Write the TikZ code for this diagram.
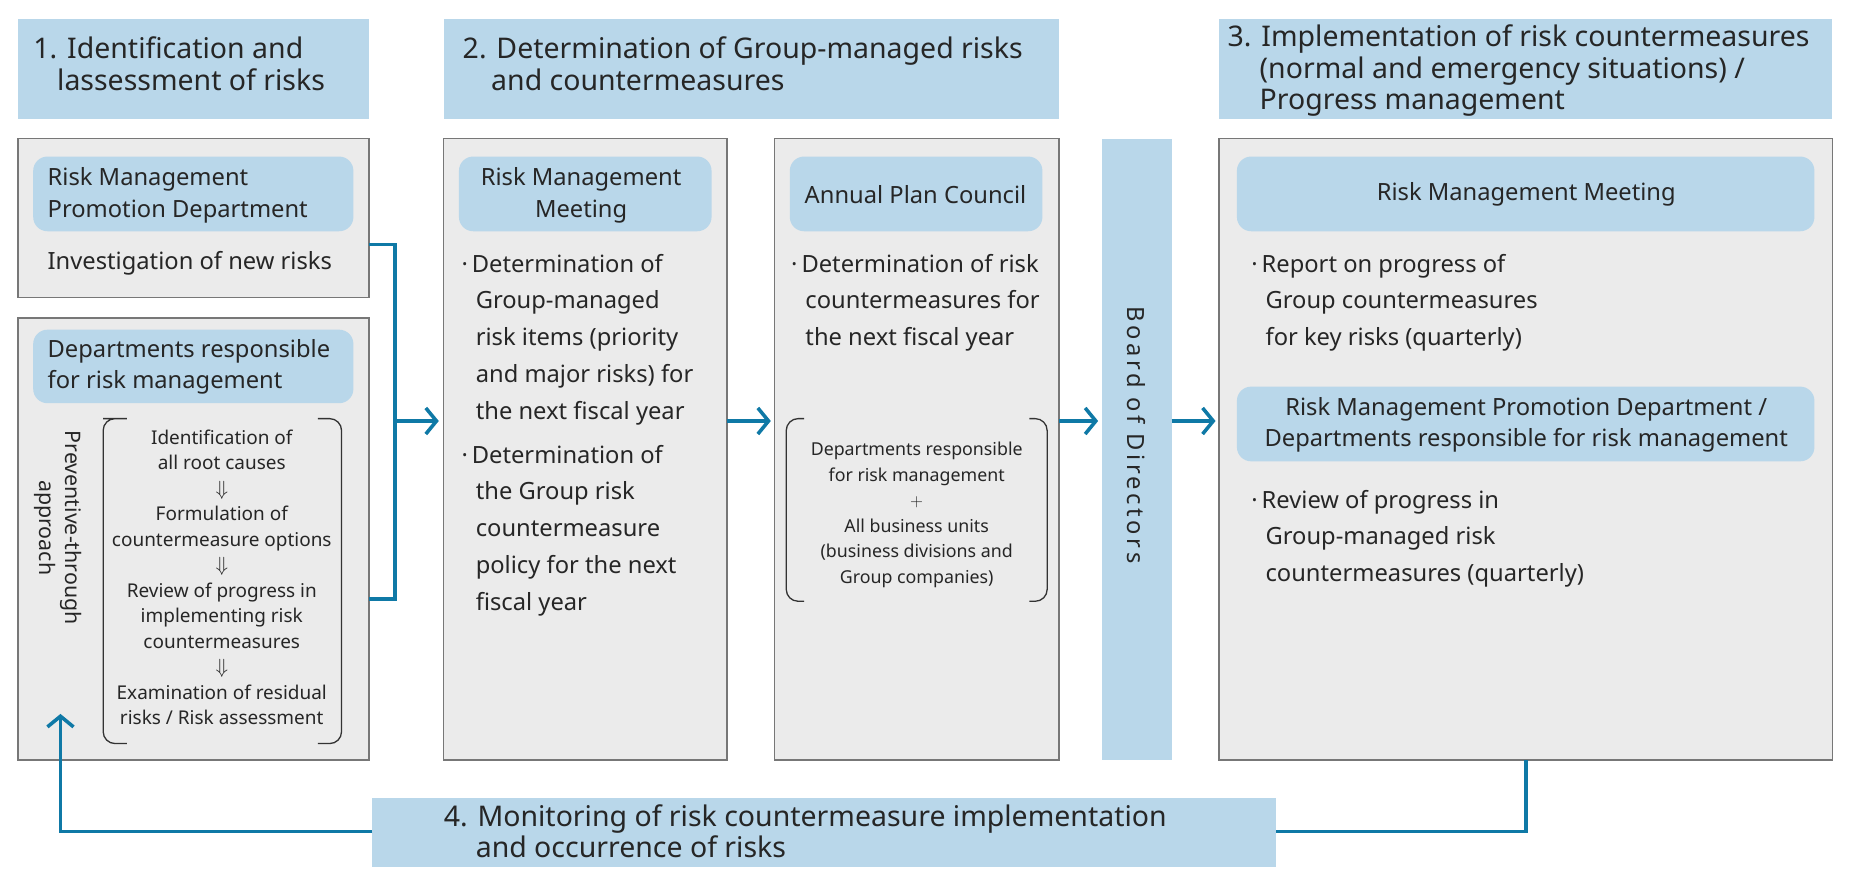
\documentclass[tikz,border=0pt]{standalone}
\usepackage{fontspec}
\setmainfont{Noto Sans}
\usetikzlibrary{arrows.meta}
\definecolor{hdr}{HTML}{B9D7EA}
\definecolor{boxg}{HTML}{EBEBEB}
\definecolor{edge}{HTML}{777777}
\definecolor{ln}{HTML}{0F79A6}
\tikzset{
  col/.style={draw=edge,fill=boxg,line width=1.2pt},
  hd/.style={fill=hdr,draw=none},
  pill/.style={fill=hdr,draw=none,rounded corners=12pt},
  t/.style={inner sep=0pt,align=left,text=black!85},
  tc/.style={inner sep=0pt,align=center,text=black!85},
  conn/.style={draw=ln,line width=3pt},
  arr/.style={conn,-{Straight Barb[length=9pt,width=22pt,line width=3pt]}},
  brk/.style={draw=black!80,line width=1.1pt,rounded corners=10pt},
}
\begin{document}
\begin{tikzpicture}[x=1pt,y=-1pt]
\useasboundingbox (0,0) rectangle (1560,742);
% headers
\fill[hd] (15,16) rectangle (311,100);
\fill[hd] (374,16) rectangle (893,100);
\fill[hd] (1028,16) rectangle (1545,100);
\node[t,anchor=north west,font=\fontsize{24}{27}\selectfont] (h1) at (28,31) {1. Identification and\\\hspace{20pt}lassessment of risks};
\node[t,anchor=north west,font=\fontsize{24}{27}\selectfont] (h2) at (390,31) {2. Determination of Group-managed risks\\\hspace{24pt}and countermeasures};
\node[t,anchor=north west,font=\fontsize{24}{26.5}\selectfont] (h3) at (1035,21) {3. Implementation of risk countermeasures\\\hspace{27pt}(normal and emergency situations) /\\\hspace{27pt}Progress management};
% columns
\draw[col] (15,117) rectangle (311,251);
\draw[col] (15,268) rectangle (311,641);
\draw[col] (374,117) rectangle (613,641);
\draw[col] (653,117) rectangle (893,641);
\fill[hd] (929,117) rectangle (988,641);
\draw[col] (1028,117) rectangle (1545,641);
\node[rotate=-90,tc,font=\fontsize{20}{24}\selectfont\addfontfeatures{LetterSpace=15}] (bod) at (958,367) {Board of Directors};
% column A
\fill[pill] (28,132) rectangle (298,195);
\node[t,anchor=west,font=\fontsize{20}{27}\selectfont] (a1) at (40,165) {Risk Management\\Promotion Department};
\node[t,anchor=west,font=\fontsize{20}{27}\selectfont] (a2) at (40,222) {Investigation of new risks};
\fill[pill] (28,278) rectangle (298,340);
\node[t,anchor=west,font=\fontsize{20}{26}\selectfont] (a3) at (40,309) {Departments responsible\\for risk management};
\node[rotate=-90,tc,font=\fontsize{18}{22}\selectfont] (prev) at (49,445) {Preventive-through\\approach};
\draw[brk] (107,353) -- (97,353) -- (87,353) -- (87,627) -- (107,627);
\draw[brk] (268,353) -- (288,353) -- (288,627) -- (268,627);
\node[tc,font=\fontsize{16}{21.5}\selectfont] (steps) at (187,487) {Identification of\\all root causes\\$\Downarrow$\\Formulation of\\countermeasure options\\$\Downarrow$\\Review of progress in\\implementing risk\\countermeasures\\$\Downarrow$\\Examination of residual\\risks / Risk assessment};
% column B
\fill[pill] (387,132) rectangle (600,195);
\node[tc,font=\fontsize{20}{27}\selectfont] (b1) at (490,165) {Risk Management\\Meeting};
\node[t,anchor=north west,font=\fontsize{20}{31}\selectfont] (b2) at (389,214) {·\,Determination of\\\hspace{12pt}Group-managed\\\hspace{12pt}risk items (priority\\\hspace{12pt}and major risks) for\\\hspace{12pt}the next fiscal year};
\node[t,anchor=north west,font=\fontsize{20}{31}\selectfont] (b3) at (389,375) {·\,Determination of\\\hspace{12pt}the Group risk\\\hspace{12pt}countermeasure\\\hspace{12pt}policy for the next\\\hspace{12pt}fiscal year};
% column C
\fill[pill] (666,132) rectangle (879,195);
\node[tc,font=\fontsize{20}{27}\selectfont] (c1) at (772,164) {Annual Plan Council};
\node[t,anchor=north west,font=\fontsize{20}{31}\selectfont] (c2) at (667,214) {·\,Determination of risk\\\hspace{12pt}countermeasures for\\\hspace{12pt}the next fiscal year};
\draw[brk] (678,353) -- (663,353) -- (663,507) -- (678,507);
\draw[brk] (868,353) -- (883,353) -- (883,507) -- (868,507);
\node[tc,font=\fontsize{15}{21.5}\selectfont] (c3) at (773,434) {Departments responsible\\for risk management\\$+$\\All business units\\(business divisions and\\Group companies)};
% column D
\fill[pill] (1043,132) rectangle (1530,195);
\node[tc,font=\fontsize{20}{27}\selectfont] (d1) at (1287,164) {Risk Management Meeting};
\node[t,anchor=north west,font=\fontsize{20}{31}\selectfont] (d2) at (1055,214) {·\,Report on progress of\\\hspace{12pt}Group countermeasures\\\hspace{12pt}for key risks (quarterly)};
\fill[pill] (1043,326) rectangle (1530,389);
\node[tc,font=\fontsize{20}{26}\selectfont] (d3) at (1287,358) {Risk Management Promotion Department /\\Departments responsible for risk management};
\node[t,anchor=north west,font=\fontsize{20}{31}\selectfont] (d4) at (1055,413) {·\,Review of progress in\\\hspace{12pt}Group-managed risk\\\hspace{12pt}countermeasures (quarterly)};
% bottom bar
\fill[hd] (314,673) rectangle (1076,731);
\node[t,anchor=north west,font=\fontsize{24}{26.5}\selectfont] (m4) at (374,678) {4. Monitoring of risk countermeasure implementation\\\hspace{27pt}and occurrence of risks};
% connectors
\coordinate (j1) at (333,355);
\draw[conn] (311,206) -- (333,206) -- (333,505) -- (311,505);
\draw[arr] (j1) -- (370,355);
\draw[arr] (613,355) -- (650,355);
\draw[arr] (893,355) -- (926,355);
\draw[arr] (988,355) -- (1025,355);
\draw[conn] (1287,641) -- (1287,701) -- (1076,701);
\draw[arr] (314,701) -- (51,701) -- (51,602);
\end{tikzpicture}
\end{document}
